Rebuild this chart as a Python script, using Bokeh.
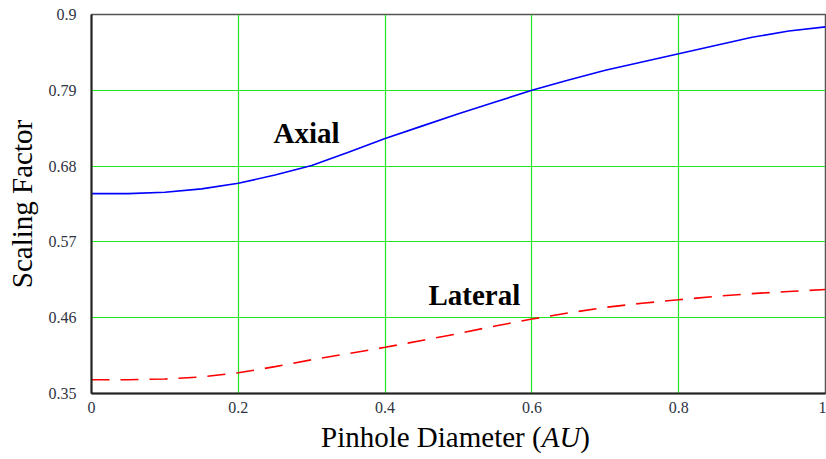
from bokeh.plotting import figure
from bokeh.models import Range1d, FixedTicker, Label, Div
from bokeh.layouts import column
from bokeh.embed import file_html
from bokeh.resources import INLINE

# Data
diameter = [0.0, 0.05, 0.1, 0.15, 0.2, 0.25, 0.3, 0.35, 0.4, 0.45, 0.5,
            0.55, 0.6, 0.65, 0.7, 0.75, 0.8, 0.85, 0.9, 0.95, 1.0]
axial = [0.640, 0.640, 0.642, 0.647, 0.655, 0.667, 0.681, 0.700, 0.720, 0.738, 0.756,
         0.773, 0.790, 0.805, 0.819, 0.831, 0.843, 0.855, 0.867, 0.876, 0.882]
lateral = [0.370, 0.370, 0.371, 0.374, 0.380, 0.389, 0.399, 0.408, 0.417, 0.427, 0.437,
           0.448, 0.458, 0.467, 0.475, 0.481, 0.486, 0.491, 0.495, 0.498, 0.501]
x_ticks = [0, 0.2, 0.4, 0.6, 0.8, 1.0]
x_tick_labels = ["0", "0.2", "0.4", "0.6", "0.8", "1"]
y_ticks = [0.35, 0.46, 0.57, 0.68, 0.79, 0.9]
y_tick_labels = ["0.35", "0.46", "0.57", "0.68", "0.79", "0.9"]

SERIF = "Liberation Serif"
TICK_COLOR = "#2e3442"

p = figure(width=826, height=420, output_backend="svg", toolbar_location=None,
           x_range=Range1d(0, 1), y_range=Range1d(0.35, 0.9),
           min_border_left=91, min_border_right=1, min_border_top=14, min_border_bottom=27)

p.background_fill_color = "white"
p.border_fill_color = "white"
p.outline_line_color = "#555555"
p.outline_line_width = 1.5

for ax in (p.xaxis[0], p.yaxis[0]):
    ax.major_tick_in = 0
    ax.major_tick_out = 0
    ax.minor_tick_in = 0
    ax.minor_tick_out = 0
    ax.axis_line_color = "#222222"
    ax.axis_line_width = 2
    ax.major_label_text_font = SERIF
    ax.major_label_text_font_size = "16px"
    ax.major_label_text_color = TICK_COLOR

p.xaxis.ticker = FixedTicker(ticks=x_ticks)
p.xaxis.major_label_overrides = {t: l for t, l in zip(x_ticks, x_tick_labels)}
p.xaxis.major_label_standoff = 8
p.yaxis.ticker = FixedTicker(ticks=y_ticks)
p.yaxis.major_label_overrides = {t: l for t, l in zip(y_ticks, y_tick_labels)}
p.yaxis.major_label_standoff = 15

p.yaxis.axis_label = "Scaling Factor"
p.yaxis.axis_label_text_font = SERIF
p.yaxis.axis_label_text_font_size = "29px"
p.yaxis.axis_label_text_font_style = "normal"
p.yaxis.axis_label_text_color = "black"
p.yaxis.axis_label_standoff = 8

p.grid.grid_line_color = "#1ee61e"
p.grid.grid_line_width = 1.2
p.xgrid.ticker = FixedTicker(ticks=x_ticks)
p.ygrid.ticker = FixedTicker(ticks=y_ticks)

p.line(diameter, axial, line_color="#0000ff", line_width=1.6)
p.line(diameter, lateral, line_color="#ff0000", line_width=1.6, line_dash="18 11")

p.add_layout(Label(x=0.248, y=0.7285, text="Axial", text_font=SERIF, text_font_size="29px",
                   text_font_style="bold", text_color="black", text_baseline="alphabetic"))
p.add_layout(Label(x=0.459, y=0.4935, text="Lateral", text_font=SERIF, text_font_size="29px",
                   text_font_style="bold", text_color="black", text_baseline="alphabetic"))

xlabel = Div(
    text='<div style="font-family:\'Liberation Serif\',serif;font-size:29px;line-height:29px;'
         'padding-top:3px;padding-left:321px;color:black;white-space:nowrap;">'
         'Pinhole Diameter (<i>AU</i>)</div>',
    width=826, height=39, margin=0)

layout = column(p, xlabel, spacing=0)
open("out.html", "w").write(file_html(layout, INLINE))
